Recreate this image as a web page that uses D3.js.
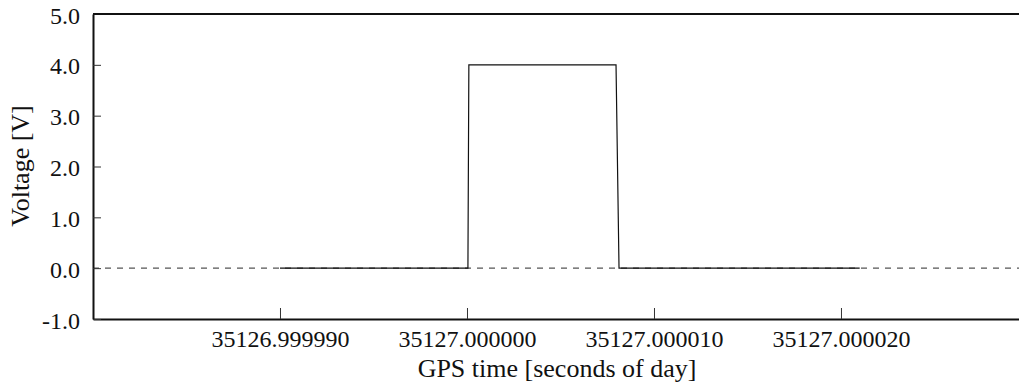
<!DOCTYPE html>
<html><head><meta charset="utf-8">
<script src="https://cdn.jsdelivr.net/npm/d3@7"></script>
<style>body{margin:0;background:#fff}svg{display:block}</style>
</head><body><svg id="c" width="1019" height="385"></svg>
<script>
// time offsets in microseconds relative to 35127.000000 s of day
const timeUs = [-10, 0.05, 0.1, 7.97, 8.13, 21.0];
const voltage = [0, 0, 4.0, 4.0, 0, 0];
const xTicks = [-10, 0, 10, 20];
const xTickLabels = ["35126.999990", "35127.000000", "35127.000010", "35127.000020"];
const yTicks = [-1, 0, 1, 2, 3, 4, 5];
const yTickLabels = ["-1.0", "0.0", "1.0", "2.0", "3.0", "4.0", "5.0"];
const refLine = [0];

const FONT = "Liberation Serif";
const FS = 24, TFS = 26;
const W = 1019, H = 385;
const m = {l: 93, t: 14, r: 0, b: 66};
const svg = d3.select("#c");
const x = d3.scaleLinear().domain([-20, 29.52]).range([m.l, W - m.r]);
const y = d3.scaleLinear().domain([-1, 5]).range([H - m.b, m.t]);

// reference dashed line
svg.selectAll("line.ref").data(refLine).enter().append("line")
  .attr("x1", m.l).attr("x2", W).attr("y1", d => y(d)).attr("y2", d => y(d))
  .attr("stroke", "#555").attr("stroke-width", 1.2).attr("stroke-dasharray", "6,6");

// signal
const pts = timeUs.map((t, i) => [t, voltage[i]]);
svg.append("path").datum(pts)
  .attr("d", d3.line().x(d => x(d[0])).y(d => y(d[1])))
  .attr("fill", "none").attr("stroke", "#111").attr("stroke-width", 1.2);

// axes
const xAxis = d3.axisBottom(x).tickValues(xTicks).tickSizeInner(-11).tickSizeOuter(0)
  .tickFormat((d, i) => xTickLabels[i]);
const gx = svg.append("g").attr("transform", `translate(0,${H - m.b})`).call(xAxis)
  .attr("font-family", FONT).attr("font-size", FS);
gx.select(".domain").attr("stroke", "#111").attr("stroke-width", 2);
gx.selectAll(".tick line").attr("stroke", "#333");
gx.selectAll("text").attr("fill", "#111").attr("font-family", FONT).attr("font-size", FS)
  .attr("dy", null).attr("y", 28);

const yAxis = d3.axisLeft(y).tickValues(yTicks).tickSizeInner(-8).tickSizeOuter(0)
  .tickFormat((d, i) => yTickLabels[i]);
const gy = svg.append("g").attr("transform", `translate(${m.l},0)`).call(yAxis)
  .attr("font-family", FONT).attr("font-size", FS);
gy.select(".domain").attr("stroke", "#111").attr("stroke-width", 2);
gy.selectAll(".tick line").attr("stroke", "#333");
gy.selectAll("text").attr("fill", "#111").attr("font-family", FONT).attr("font-size", FS)
  .attr("x", -13).attr("dy", null).attr("y", 9);

// top border
svg.append("line").attr("x1", m.l).attr("x2", W).attr("y1", m.t).attr("y2", m.t)
  .attr("stroke", "#111").attr("stroke-width", 2);

// titles
svg.append("text").attr("x", 557).attr("y", 377).attr("text-anchor", "middle")
  .attr("font-family", FONT).attr("font-size", TFS).attr("fill", "#111").text("GPS time [seconds of day]");
svg.append("text").attr("transform", `translate(29,166) rotate(-90)`).attr("text-anchor", "middle")
  .attr("font-family", FONT).attr("font-size", TFS).attr("fill", "#111").text("Voltage [V]");
</script></body></html>
